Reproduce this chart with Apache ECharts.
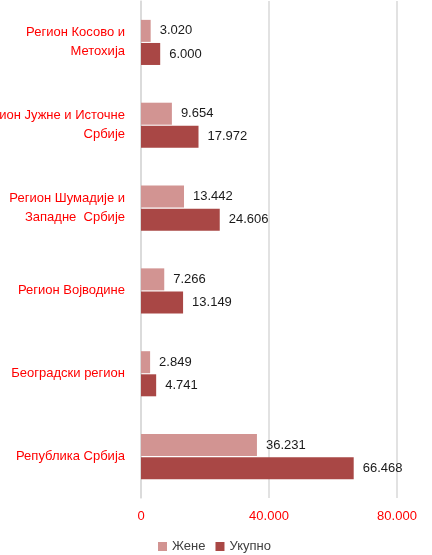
<!DOCTYPE html>
<html>
<head>
<meta charset="utf-8">
<script src="https://cdn.jsdelivr.net/npm/echarts@6/dist/echarts.min.js"></script>
<style>
  html, body { margin: 0; padding: 0; background: #fff; }
  #chart { width: 432px; height: 555px; }
</style>
</head>
<body>
<div id="chart"></div>
<script>
const categories = [
  'Регион Косово и\nМетохија',
  'Регион Јужне и Источне\nСрбије',
  'Регион Шумадије и\nЗападне  Србије',
  'Регион Војводине',
  'Београдски регион',
  'Република Србија'
];
const zene = [3020, 9654, 13442, 7266, 2849, 36231];
const ukupno = [6000, 17972, 24606, 13149, 4741, 66468];
const axisTicks = [0, 40000, 80000];

const font = '"Liberation Sans Narrow", "Liberation Sans", Arial, sans-serif';
const fmt = v => String(v).replace(/\B(?=(\d{3})+(?!\d))/g, '.');

const chart = echarts.init(document.getElementById('chart'));

const barLabel = {
  show: true,
  position: 'right',
  distance: 9,
  color: '#1a1a1a',
  fontFamily: font,
  fontSize: 13,
  formatter: p => fmt(p.value)
};

chart.setOption({
  animation: false,
  backgroundColor: '#fff',
  grid: { left: 141, right: 35, top: 1, bottom: 57, containLabel: false, outerBoundsMode: 'none' },
  legend: {
    top: 535,
    left: 153,
    icon: 'rect',
    itemWidth: 9,
    itemHeight: 9,
    itemGap: 10,
    itemStyle: { borderWidth: 0 },
    textStyle: { color: '#404040', fontFamily: font, fontSize: 13 },
    data: ['Жене', 'Укупно']
  },
  xAxis: {
    type: 'value',
    min: axisTicks[0],
    max: axisTicks[axisTicks.length - 1],
    interval: 40000,
    axisLine: { show: false },
    axisTick: { show: false },
    splitLine: { lineStyle: { color: '#d9d9d9', width: 1.5 } },
    axisLabel: {
      color: '#ff0000',
      fontFamily: font,
      fontSize: 13,
      margin: 12,
      formatter: v => fmt(v)
    }
  },
  yAxis: {
    type: 'category',
    inverse: true,
    data: categories,
    axisLine: { lineStyle: { color: '#d9d9d9', width: 1.5 } },
    axisTick: { show: false },
    axisLabel: {
      color: '#ff0000',
      fontFamily: font,
      fontSize: 13,
      lineHeight: 19,
      margin: 16,
      align: 'right'
    }
  },
  series: [
    {
      name: 'Жене',
      type: 'bar',
      data: zene,
      barWidth: 22,
      barGap: '5%',
      itemStyle: { color: '#d29492' },
      label: barLabel
    },
    {
      name: 'Укупно',
      type: 'bar',
      data: ukupno,
      barWidth: 22,
      itemStyle: { color: '#a94745' },
      label: barLabel
    }
  ]
});
</script>
</body>
</html>
